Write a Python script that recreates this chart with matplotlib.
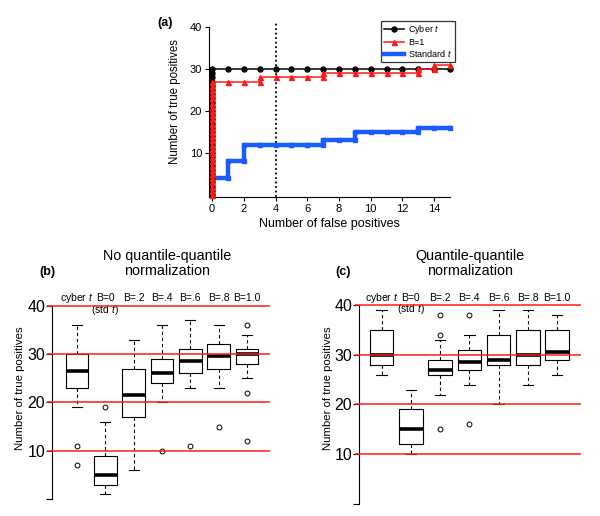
import matplotlib
matplotlib.use('Agg')
import matplotlib.pyplot as plt
from matplotlib.lines import Line2D

plt.rcParams['font.family'] = ['Liberation Sans', 'DejaVu Sans']
plt.rcParams['mathtext.fontset'] = 'custom'
plt.rcParams['mathtext.rm'] = 'Liberation Sans'
plt.rcParams['mathtext.it'] = 'Liberation Sans:italic'

# panel (a): ROC-like curves, (false positives, true positives)
cyber_fp = [0, 0, 0, 0, 0, 0, 0, 0, 0, 0, 0, 0, 0, 0, 0, 0, 0, 0, 0, 0, 0, 0, 0, 0, 0, 0, 0, 0, 0, 0, 0,
            1, 2, 3, 4, 5, 6, 7, 8, 9, 10, 11, 12, 13, 14, 15]
cyber_tp = [0, 1, 2, 3, 4, 5, 6, 7, 8, 9, 10, 11, 12, 13, 14, 15, 16, 17, 18, 19, 20, 21, 22, 23, 24, 25,
            26, 27, 28, 29, 30,
            30, 30, 30, 30, 30, 30, 30, 30, 30, 30, 30, 30, 30, 30, 30]
b1_fp = [0, 0, 0, 0, 0, 0, 0, 0, 0, 0, 0, 0, 0, 0, 0, 0, 0, 0, 0, 0, 0, 0, 0, 0, 0, 0, 0, 0,
         1, 2, 3, 3, 4, 5, 6, 7, 7, 8, 9, 10, 11, 12, 13, 13, 14, 14, 15]
b1_tp = [0, 1, 2, 3, 4, 5, 6, 7, 8, 9, 10, 11, 12, 13, 14, 15, 16, 17, 18, 19, 20, 21, 22, 23, 24, 25, 26, 27,
         27, 27, 27, 28, 28, 28, 28, 28, 29, 29, 29, 29, 29, 29, 29, 30, 30, 31, 31]
std_fp = [0, 0, 1, 1, 2, 2, 3, 4, 5, 6, 7, 7, 8, 9, 9, 10, 11, 12, 13, 13, 14, 15]
std_tp = [0, 4, 4, 8, 8, 12, 12, 12, 12, 12, 12, 13, 13, 13, 15, 15, 15, 15, 15, 16, 16, 16]
fp_cut = 4

# panels (b) and (c): box statistics
box_labels = ['cyber $t$', 'B=0', 'B=.2', 'B=.4', 'B=.6', 'B=.8', 'B=1.0']

b_lo = [19, 1, 6, 20, 23, 23, 25]
b_q1 = [23, 3, 17, 24, 26, 27, 28]
b_med = [26.5, 5, 21.5, 26, 28.5, 29.5, 30]
b_q3 = [30, 9, 27, 29, 31, 32, 31]
b_hi = [36, 16, 33, 36, 37, 36, 34]
b_out = [[11, 7], [19], [], [10], [11], [15], [36, 22, 12]]

c_lo = [26, 10, 22, 24, 20, 24, 26]
c_q1 = [28, 12, 26, 27, 28, 28, 29]
c_med = [30, 15, 27, 28.5, 29, 30, 30.5]
c_q3 = [35, 19, 29, 31, 34, 35, 35]
c_hi = [39, 23, 33, 34, 39, 39, 38]
c_out = [[], [], [38, 34, 15], [38, 16], [], [], []]

ref_lines = [10, 20, 30, 40]

W, H = 600, 516
fig = plt.figure(figsize=(6, 5.16), dpi=100)


def px_axes(left, top, right, bottom):
    return fig.add_axes([left / W, 1 - bottom / H, (right - left) / W, (bottom - top) / H])


# ---- (a)
ax = px_axes(209, 20.7, 450, 197)
ax.plot(std_fp, std_tp, color='#1a5cff', lw=3.2, marker='s', ms=3, clip_on=False, zorder=2)
ax.plot(cyber_fp, cyber_tp, color='black', lw=1.1, marker='o', ms=3.6, clip_on=False, zorder=3)
ax.plot(b1_fp, b1_tp, color='#ff1a1a', lw=1.1, marker='^', ms=3.6, clip_on=False, zorder=4)
ax.axvline(fp_cut, color='black', ls=(0, (1, 1.5)), lw=1.3, zorder=1)
ax.set_xlim(-0.2, 15)
ax.set_ylim(-0.5, 41.5)
ax.set_xticks([0, 2, 4, 6, 8, 10, 12, 14])
ax.set_yticks([10, 20, 30, 40])
for s in ['top', 'right']:
    ax.spines[s].set_visible(False)
ax.spines['left'].set_bounds(-0.5, 40)
ax.tick_params(labelsize=8, length=3, pad=2)
ax.set_xlabel('Number of false positives', fontsize=9, labelpad=3)
ax.set_ylabel('Number of true positives', fontsize=8.3)
ax.yaxis.set_label_coords(-0.116, 0.54)
handles = [Line2D([], [], color='black', lw=1.1, marker='o', ms=3.6),
           Line2D([], [], color='#ff1a1a', lw=1.1, marker='^', ms=3.6),
           Line2D([], [], color='#1a5cff', lw=3.2)]
leg = ax.legend(handles, ['Cyber $t$', 'B=1', 'Standard $t$'], loc='upper right',
                bbox_to_anchor=(1.02, 1.0), fontsize=6.5, frameon=True, fancybox=False,
                edgecolor='black', borderpad=0.3, labelspacing=0.15, handlelength=2.2,
                handletextpad=0.5, borderaxespad=0)
leg.get_frame().set_linewidth(0.9)
fig.text(165 / W, 1 - 23 / H, '(a)', fontsize=9, fontweight='bold', ha='center', va='center')


# ---- (b), (c)
def box_panel(ax, lo, q1, med, q3, hi, out, xl, xr, line_left):
    stats = [dict(whislo=lo[i], q1=q1[i], med=med[i], q3=q3[i], whishi=hi[i], fliers=out[i])
             for i in range(len(lo))]
    pos = list(range(1, len(lo) + 1))
    ax.bxp(stats, positions=pos, widths=0.8, capwidths=0.36, manage_ticks=False,
           boxprops=dict(color='black', lw=0.8),
           medianprops=dict(color='black', lw=2.6, solid_capstyle='butt'),
           whiskerprops=dict(color='black', lw=0.8, linestyle=(0, (3, 2.5))),
           capprops=dict(color='black', lw=0.8),
           flierprops=dict(marker='o', mfc='none', mec='black', ms=3.5, mew=0.7))
    ax.hlines(ref_lines, line_left, xr, colors='#ff1a1a', lw=1.1, clip_on=False, zorder=5)
    ax.set_xlim(xl, xr)
    ax.set_ylim(0, 40.5)
    for s in ['top', 'right', 'bottom']:
        ax.spines[s].set_visible(False)
    ax.spines['left'].set_bounds(0, 40)
    ax.set_xticks([])
    ax.set_yticks([0, 10, 20, 30, 40])
    ax.set_yticklabels(['', '10', '20', '30', '40'])
    ax.tick_params(axis='y', labelsize=11.5, length=4, pad=1)
    ax.set_ylabel('Number of true positives', fontsize=8.2)
    for p, lab in zip(pos, box_labels):
        ax.text(p, 41.5, lab, ha='center', va='center', fontsize=7.5, clip_on=False)
    ax.text(pos[1], 39.1, '(std $t$)', ha='center', va='center', fontsize=7.5, clip_on=False)


axb = px_axes(52, 303.3, 270, 499)
box_panel(axb, b_lo, b_q1, b_med, b_q3, b_hi, b_out, 0.118, 7.81, -0.06)
axb.yaxis.set_label_coords(-0.124, 0.567)
fig.text(167 / W, 1 - 263.5 / H, 'No quantile-quantile\nnormalization', fontsize=10.4,
         ha='center', va='center', linespacing=1.1)
fig.text(47 / W, 1 - 272 / H, '(b)', fontsize=9, fontweight='bold', ha='center', va='center')

axc = px_axes(359, 302.5, 581, 504)
box_panel(axc, c_lo, c_q1, c_med, c_q3, c_hi, c_out, 0.223, 7.82, 0.086)
axc.yaxis.set_label_coords(-0.117, 0.576)
fig.text(470 / W, 1 - 263.5 / H, 'Quantile-quantile\nnormalization', fontsize=10.4,
         ha='center', va='center', linespacing=1.1)
fig.text(343 / W, 1 - 272 / H, '(c)', fontsize=9, fontweight='bold', ha='center', va='center')

fig.savefig('out.png', dpi=100)
